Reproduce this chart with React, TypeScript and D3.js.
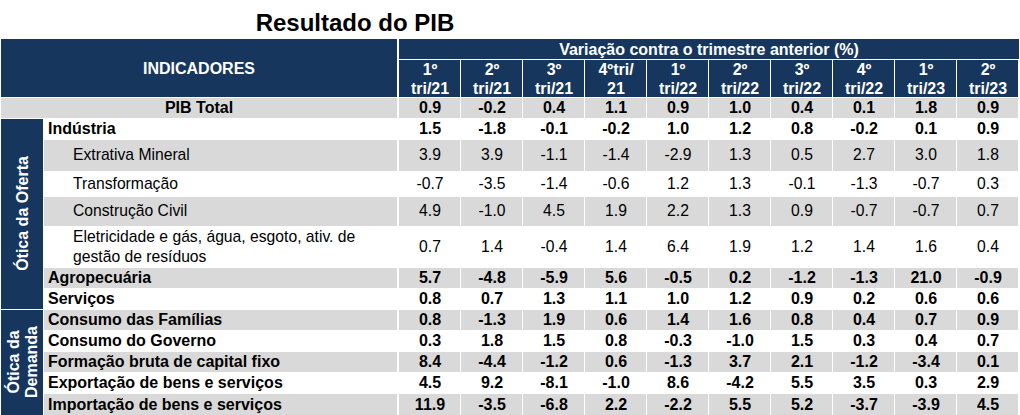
import React from 'react';
import * as d3 from 'd3';

// Column headers (two lines each)
const quarters = ['1º tri/21', '2º tri/21', '3º tri/21', '4ºtri/21', '1º tri/22', '2º tri/22', '3º tri/22', '4º tri/22', '1º tri/23', '2º tri/23'];
const quarterLines = [
  ['1º', 'tri/21'], ['2º', 'tri/21'], ['3º', 'tri/21'], ['4ºtri/', '21'], ['1º', 'tri/22'],
  ['2º', 'tri/22'], ['3º', 'tri/22'], ['4º', 'tri/22'], ['1º', 'tri/23'], ['2º', 'tri/23'],
];

// Row labels
const rowLabels = [
  ['PIB Total'],
  ['Indústria'],
  ['Extrativa Mineral'],
  ['Transformação'],
  ['Construção Civil'],
  ['Eletricidade e gás, água, esgoto, ativ. de', 'gestão de resíduos'],
  ['Agropecuária'],
  ['Serviços'],
  ['Consumo das Famílias'],
  ['Consumo do Governo'],
  ['Formação bruta de capital fixo'],
  ['Exportação de bens e serviços'],
  ['Importação de bens e serviços'],
];

// Values (% change vs previous quarter)
const pibTotal = [0.9, -0.2, 0.4, 1.1, 0.9, 1.0, 0.4, 0.1, 1.8, 0.9];
const industria = [1.5, -1.8, -0.1, -0.2, 1.0, 1.2, 0.8, -0.2, 0.1, 0.9];
const extrativa = [3.9, 3.9, -1.1, -1.4, -2.9, 1.3, 0.5, 2.7, 3.0, 1.8];
const transformacao = [-0.7, -3.5, -1.4, -0.6, 1.2, 1.3, -0.1, -1.3, -0.7, 0.3];
const construcao = [4.9, -1.0, 4.5, 1.9, 2.2, 1.3, 0.9, -0.7, -0.7, 0.7];
const eletricidade = [0.7, 1.4, -0.4, 1.4, 6.4, 1.9, 1.2, 1.4, 1.6, 0.4];
const agropecuaria = [5.7, -4.8, -5.9, 5.6, -0.5, 0.2, -1.2, -1.3, 21.0, -0.9];
const servicos = [0.8, 0.7, 1.3, 1.1, 1.0, 1.2, 0.9, 0.2, 0.6, 0.6];
const consumoFamilias = [0.8, -1.3, 1.9, 0.6, 1.4, 1.6, 0.8, 0.4, 0.7, 0.9];
const consumoGoverno = [0.3, 1.8, 1.5, 0.8, -0.3, -1.0, 1.5, 0.3, 0.4, 0.7];
const fbcf = [8.4, -4.4, -1.2, 0.6, -1.3, 3.7, 2.1, -1.2, -3.4, 0.1];
const exportacao = [4.5, 9.2, -8.1, -1.0, 8.6, -4.2, 5.5, 3.5, 0.3, 2.9];
const importacao = [11.9, -3.5, -6.8, 2.2, -2.2, 5.5, 5.2, -3.7, -3.9, 4.5];

const rowValues = [pibTotal, industria, extrativa, transformacao, construcao, eletricidade, agropecuaria, servicos, consumoFamilias, consumoGoverno, fbcf, exportacao, importacao];

// layout (not data)
const rowHeights = [21, 21, 32, 25, 30, 41, 21, 21, 21, 21, 21, 21, 22];
const boldRows = [true, true, false, false, false, false, true, true, true, true, true, true, true];
const indentRows = [false, false, true, true, true, true, false, false, false, false, false, false, false];

const NAVY = '#17365d';
const GRAY = '#d9d9d9';
const FONT = '"Liberation Sans", Arial, sans-serif';
const BOLD_SIZE = 16;
const NORMAL_SIZE = 15.7;

const fmt = d3.formatLocale({ decimal: '.', thousands: ',', grouping: [3], currency: ['', ''], minus: '-' }).format('.1f');

export default function App() {
  const width = 1020;
  const height = 415;
  const bodyTop = 97;

  const x = d3.scaleBand<string>().domain(quarters).range([399, 1019]).paddingInner(0);
  const tops = rowHeights.reduce<number[]>((acc, h, i) => {
    acc.push(i === 0 ? bodyTop : acc[i - 1] + rowHeights[i - 1]);
    return acc;
  }, []);

  const labelX0 = 44;
  const labelX1 = 397;

  return (
    <svg width={width} height={height} style={{ position: 'absolute', left: 0, top: 0, fontFamily: FONT }}>
      <rect width={width} height={height} fill="#fff" />
      {/* title */}
      <text x={355} y={31} textAnchor="middle" fontSize={24} fontWeight="bold" fill="#000">Resultado do PIB</text>

      {/* header */}
      <rect x={1} y={39} width={labelX1 - 1} height={58} fill={NAVY} />
      <text x={199} y={68} dy="0.35em" textAnchor="middle" fontSize={BOLD_SIZE} fontWeight="bold" fill="#fff">INDICADORES</text>
      <rect x={399} y={39} width={620} height={20} fill={NAVY} />
      <text x={709} y={49} dy="0.35em" textAnchor="middle" fontSize={BOLD_SIZE} fontWeight="bold" fill="#fff">Variação contra o trimestre anterior (%)</text>
      {quarters.map((q, i) => (
        <g key={q}>
          <rect x={x(q)!} y={60} width={x.bandwidth() - 1} height={37} fill={NAVY} />
          {quarterLines[i].map((line, j) => (
            <text key={j} x={x(q)! + x.bandwidth() / 2} y={69 + j * 19} dy="0.35em" textAnchor="middle" fontSize={BOLD_SIZE} fontWeight="bold" fill="#fff">{line}</text>
          ))}
        </g>
      ))}

      {/* body rows */}
      {rowValues.map((vals, r) => {
        const top = tops[r];
        const h = rowHeights[r];
        const cy = top + h / 2;
        const shaded = r % 2 === 0;
        const bold = boldRows[r];
        const size = bold ? BOLD_SIZE : NORMAL_SIZE;
        const lines = rowLabels[r];
        return (
          <g key={r}>
            {shaded && (
              <rect x={r === 0 ? 1 : labelX0} y={top + 1} width={labelX1 - (r === 0 ? 1 : labelX0)} height={h - 1} fill={GRAY} />
            )}
            {shaded && quarters.map((q) => (
              <rect key={q} x={x(q)!} y={top + 1} width={x.bandwidth() - 1} height={h - 1} fill={GRAY} />
            ))}
            {lines.map((line, j) => (
              <text key={j}
                x={r === 0 ? 199 : indentRows[r] ? 73 : 48}
                y={cy + (j - (lines.length - 1) / 2) * 20}
                dy="0.35em"
                textAnchor={r === 0 ? 'middle' : 'start'}
                fontSize={size}
                fontWeight={bold ? 'bold' : 'normal'}
                fill="#000">{line}</text>
            ))}
            {vals.map((v, i) => (
              <text key={i} x={x(quarters[i])! + x.bandwidth() / 2} y={cy} dy="0.35em" textAnchor="middle"
                fontSize={size} fontWeight={bold ? 'bold' : 'normal'} fill="#000">{fmt(v)}</text>
            ))}
          </g>
        );
      })}

      {/* side group labels */}
      <rect x={1} y={tops[1] + 1} width={42} height={tops[8] - tops[1] - 1} fill={NAVY} />
      <text transform={`translate(22,${(tops[1] + tops[8]) / 2}) rotate(-90)`} dy="0.35em" textAnchor="middle" fontSize={BOLD_SIZE} fontWeight="bold" fill="#fff">Ótica da Oferta</text>
      <rect x={1} y={tops[8] + 1} width={42} height={height - tops[8] - 1} fill={NAVY} />
      <text transform={`translate(13,${(tops[8] + height) / 2}) rotate(-90)`} dy="0.35em" textAnchor="middle" fontSize={BOLD_SIZE} fontWeight="bold" fill="#fff">Ótica da</text>
      <text transform={`translate(31,${(tops[8] + height) / 2}) rotate(-90)`} dy="0.35em" textAnchor="middle" fontSize={BOLD_SIZE} fontWeight="bold" fill="#fff">Demanda</text>
    </svg>
  );
}
